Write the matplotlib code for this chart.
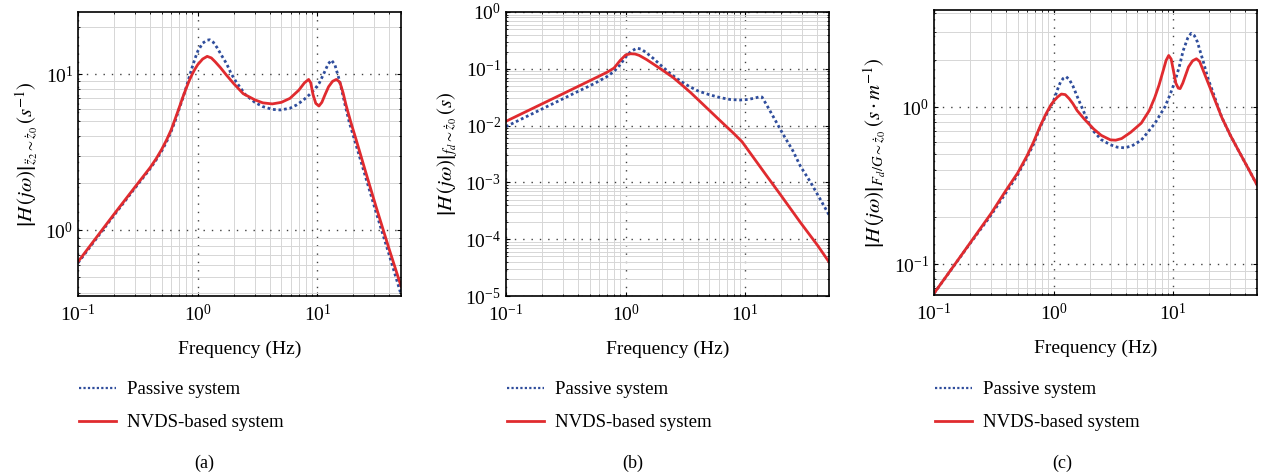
import matplotlib
matplotlib.use("Agg")
import matplotlib.pyplot as plt

plt.rcParams["font.family"] = ["Liberation Serif", "DejaVu Serif"]
plt.rcParams["mathtext.fontset"] = "stix"

# --- (a) acceleration / velocity ---
fa_red = [0.1, 0.15, 0.2, 0.3, 0.4, 0.45, 0.5, 0.55, 0.6, 0.65, 0.7, 0.75, 0.8, 0.85,
          0.9, 0.95, 1.0, 1.1, 1.2, 1.3, 1.4, 1.55, 1.75, 2.0, 2.4, 3.0, 3.5, 4.2, 5.0,
          5.9, 7.0, 7.8, 8.45, 8.8, 9.2, 9.7, 10.3, 10.9, 11.6, 12.4, 13.4, 14.4,
          15.4, 16.4, 17.4, 19.0, 21.1, 25.6, 31.0, 40.0, 50.0]
ha_red = [0.63, 0.95, 1.27, 1.90, 2.52, 2.88, 3.3, 3.8, 4.4, 5.2, 6.1, 7.1, 8.1, 9.1,
          10.0, 10.8, 11.5, 12.5, 13.0, 12.7, 12.0, 11.0, 9.8, 8.7, 7.5, 6.85, 6.55,
          6.45, 6.6, 7.0, 7.9, 8.8, 9.25, 8.8, 7.4, 6.5, 6.25, 6.6, 7.4, 8.3, 9.0,
          9.25, 8.9, 7.6, 6.3, 4.95, 3.8, 2.3, 1.41, 0.75, 0.44]
fa_blue = [0.1, 0.2, 0.3, 0.4, 0.45, 0.5, 0.55, 0.6, 0.65, 0.7, 0.75, 0.8, 0.85, 0.9,
           0.95, 1.0, 1.1, 1.2, 1.26, 1.35, 1.45, 1.6, 1.75, 1.9, 2.1, 2.5, 3.0, 3.5,
           4.2, 4.9, 5.9, 6.7, 7.6, 8.6, 9.5, 10.4, 11.4, 12.3, 13.1, 14.0, 15.0,
           16.0, 17.0, 18.5, 21.0, 25.5, 31.0, 40.0, 50.0]
ha_blue = [0.62, 1.25, 1.87, 2.48, 2.83, 3.22, 3.7, 4.3, 5.05, 6.0, 7.0, 8.2, 9.6,
           11.1, 12.6, 14.0, 15.8, 16.5, 16.6, 16.0, 14.8, 13.0, 11.6, 10.1, 8.9, 7.4,
           6.6, 6.2, 5.95, 5.9, 6.05, 6.35, 6.8, 7.4, 8.0, 8.8, 10.2, 11.6, 12.3,
           11.5, 9.6, 7.9, 6.4, 4.9, 3.55, 2.15, 1.3, 0.69, 0.39]

# --- (b) suspension force / velocity ---
fb_red = [0.1, 0.2, 0.3, 0.4, 0.5, 0.6, 0.7, 0.8, 0.9, 1.0, 1.1, 1.2, 1.3, 1.5, 1.75,
          2.0, 2.5, 3.0, 3.5, 4.2, 5.0, 6.0, 7.0, 8.0, 9.4, 12.0, 15.2, 20.0, 29.0,
          40.0, 50.0]
hb_red = [0.0119, 0.0241, 0.0364, 0.0489, 0.0615, 0.0742, 0.087, 0.103, 0.14, 0.175,
          0.184, 0.182, 0.172, 0.145, 0.117, 0.097, 0.07, 0.0505, 0.038, 0.0264,
          0.0186, 0.0129, 0.0095, 0.0073, 0.0052, 0.00255, 0.00128, 0.00058,
          0.000195, 7.9e-5, 4.0e-5]
fb_blue = [0.1, 0.2, 0.3, 0.4, 0.5, 0.6, 0.7, 0.8, 0.9, 1.0, 1.1, 1.24, 1.35, 1.5,
           1.7, 2.0, 2.4, 2.9, 3.4, 4.0, 5.0, 6.2, 7.5, 9.0, 10.5, 12.0, 13.2, 13.8,
           15.2, 17.0, 20.9, 25.0, 29.0, 35.0, 42.0, 50.0]
hb_blue = [0.0096, 0.0196, 0.0297, 0.040, 0.050, 0.061, 0.073, 0.09, 0.118, 0.16,
           0.2, 0.231, 0.222, 0.19, 0.153, 0.112, 0.08, 0.06, 0.049, 0.041, 0.035,
           0.031, 0.0288, 0.0282, 0.0288, 0.0305, 0.0322, 0.0318, 0.0225, 0.0148,
           0.0068, 0.0036, 0.0019, 0.00102, 0.00052, 0.00027]

# --- (c) dynamic tyre load / velocity ---
fc_red = [0.1, 0.15, 0.2, 0.3, 0.4, 0.5, 0.6, 0.68, 0.774, 0.86, 0.94, 1.0, 1.08,
          1.16, 1.25, 1.35, 1.45, 1.57, 1.8, 2.16, 2.5, 2.98, 3.3, 3.7, 4.4, 5.4,
          6.3, 7.0, 7.6, 8.24, 8.7, 9.15, 9.6, 10.0, 10.5, 11.0, 11.4, 12.0, 13.4,
          14.5, 15.6, 16.6, 18.4, 20.5, 25.4, 30.0, 35.0, 42.0, 50.0]
hc_red = [0.065, 0.1, 0.136, 0.21, 0.295, 0.38, 0.49, 0.6, 0.76, 0.9, 1.02, 1.09,
          1.16, 1.21, 1.2, 1.13, 1.05, 0.95, 0.84, 0.725, 0.66, 0.618, 0.615, 0.63,
          0.69, 0.79, 0.95, 1.15, 1.38, 1.71, 1.98, 2.13, 2.02, 1.72, 1.42, 1.32,
          1.31, 1.42, 1.8, 1.97, 2.03, 1.95, 1.6, 1.3, 0.86, 0.66, 0.53, 0.41, 0.32]
fc_blue = [0.1, 0.2, 0.3, 0.4, 0.5, 0.6, 0.68, 0.774, 0.86, 0.94, 1.0, 1.08, 1.14,
           1.2, 1.27, 1.35, 1.45, 1.55, 1.67, 1.8, 1.97, 2.16, 2.5, 2.98, 3.4, 3.9,
           4.5, 5.4, 6.2, 7.0, 7.8, 8.5, 9.4, 10.3, 11.2, 12.1, 13.2, 14.1, 15.0,
           15.9, 16.7, 17.8, 18.7, 19.6, 21.0, 25.4, 30.0, 35.0, 42.0, 50.0]
hc_blue = [0.065, 0.135, 0.205, 0.285, 0.37, 0.48, 0.58, 0.75, 0.88, 1.0, 1.1, 1.3,
           1.44, 1.52, 1.56, 1.5, 1.36, 1.2, 1.05, 0.92, 0.79, 0.7, 0.62, 0.575,
           0.555, 0.55, 0.565, 0.615, 0.7, 0.785, 0.9, 1.0, 1.2, 1.45, 1.8, 2.29,
           2.75, 2.95, 2.85, 2.6, 2.29, 1.95, 1.7, 1.5, 1.3, 0.86, 0.66, 0.53,
           0.41, 0.32]

labels = ["Passive system", "NVDS-based system"]
ylabels = [r"$\left|H\,(j\omega)\right|_{\ddot{z}_2\sim\dot{z}_0}\,(s^{-1})$",
           r"$\left|H\,(j\omega)\right|_{f_d\sim\dot{z}_0}\,(s)$",
           r"$\left|H\,(j\omega)\right|_{F_d/G\sim\dot{z}_0}\,(s\cdot m^{-1})$"]
captions = ["(a)", "(b)", "(c)"]
ylims = [(0.38, 25), (1e-5, 1), (0.0635, 4.15)]

blue = "#2f4d9c"
red = "#e02b2f"

fig = plt.figure(figsize=(12.63, 4.74), dpi=100)
lefts = [0.0618, 0.4006, 0.7395]
bottoms = [0.3755, 0.3755, 0.3776]
tops = [0.9747, 0.9747, 0.9789]
cap_x = [204, 633, 1062]

series = [(fa_blue, ha_blue, fa_red, ha_red),
          (fb_blue, hb_blue, fb_red, hb_red),
          (fc_blue, hc_blue, fc_red, hc_red)]

for i, (fbl, hbl, frd, hrd) in enumerate(series):
    ax = fig.add_axes([lefts[i], bottoms[i], 0.2557, tops[i] - bottoms[i]])
    ax.loglog(fbl, hbl, color=blue, ls=(0, (1, 1)), lw=2.0, label=labels[0])
    ax.loglog(frd, hrd, color=red, lw=2.0, label=labels[1])
    ax.set_xlim(0.1, 50)
    ax.set_ylim(*ylims[i])
    ax.grid(True, which="minor", color="0.84", lw=0.7, ls="-")
    ax.grid(True, which="major", color="0.25", lw=1.0, ls=(0, (1, 5)))
    ax.set_axisbelow(True)
    ax.tick_params(which="both", direction="in", top=True, right=True, labelsize=14)
    ax.tick_params(which="major", length=3)
    ax.tick_params(which="minor", length=1.5)
    ax.tick_params(axis="x", which="major", pad=6)
    for sp in ax.spines.values():
        sp.set_linewidth(1.2)
    ax.set_xlabel("Frequency (Hz)", fontsize=14, labelpad=11)
    ax.set_ylabel(ylabels[i], fontsize=15, labelpad=4)

    leg = ax.legend(loc="upper left", bbox_to_anchor=(lefts[i] + 0.001, 0.196),
                    bbox_transform=fig.transFigure, frameon=False, fontsize=13.5,
                    handlelength=1.95, handletextpad=0.6, labelspacing=0.85,
                    borderaxespad=0, borderpad=0)
    leg.get_lines()[0].set_linewidth(1.6)
    fig.text(cap_x[i] / 1263, 0.012, captions[i], fontsize=13, ha="center")

fig.savefig("out.png", dpi=100)
